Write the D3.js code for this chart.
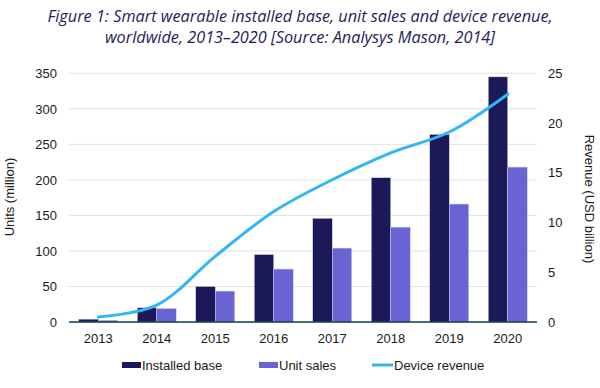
<!DOCTYPE html>
<html>
<head>
<meta charset="utf-8">
<script src="https://cdn.jsdelivr.net/npm/d3@7"></script>
<style>
  html, body { margin: 0; padding: 0; background: #fff; }
  svg { display: block; }
</style>
</head>
<body>
<div id="chart"></div>
<script>
const years = ["2013", "2014", "2015", "2016", "2017", "2018", "2019", "2020"];
const installedBase = [4, 20, 50, 95, 146, 203, 264, 345];
const unitSales = [2.5, 19, 43.5, 74.5, 104, 133.5, 166, 218];
const deviceRevenue = [0.5, 1.7, 6.6, 11.1, 14.3, 17.0, 19.1, 22.9];
const unitTicks = [0, 50, 100, 150, 200, 250, 300, 350];
const revenueTicks = [0, 5, 10, 15, 20, 25];
const seriesNames = ["Installed base", "Unit sales"];
const titleLines = [
  "Figure 1: Smart wearable installed base, unit sales and device revenue,",
  "worldwide, 2013\u20132020 [Source: Analysys Mason, 2014]"
];

const width = 600;
const height = 388;
const plot = { left: 69, right: 537, top: 73.3, bottom: 322 };
const colors = { "Installed base": "#1b1958", "Unit sales": "#6a63d4", line: "#33b6f6" };
const font = "'Liberation Sans', Arial, sans-serif";

const x0 = d3
  .scaleBand()
  .domain(years)
  .range([plot.left, plot.right])
  .paddingInner(1 / 3)
  .paddingOuter(1 / 6);

const x1 = d3.scaleBand().domain(seriesNames).range([0, x0.bandwidth()]);

const yLeft = d3.scaleLinear().domain([0, 350]).range([plot.bottom, plot.top]);
const yRight = d3.scaleLinear().domain([0, 25]).range([plot.bottom, plot.top]);

const svg = d3
  .select("#chart")
  .append("svg")
  .attr("width", width)
  .attr("height", height)
  .attr("viewBox", `0 0 ${width} ${height}`);

// title
svg
  .append("g")
  .selectAll("text")
  .data(titleLines)
  .join("text")
  .attr("x", width / 2)
  .attr("y", (d, i) => 22 + i * 20.5)
  .attr("text-anchor", "middle")
  .attr("font-family", "'Open Sans', Lato, sans-serif")
  .attr("font-style", "italic")
  .attr("font-size", 16.3)
  .attr("fill", "#1f1d5b")
  .text((d) => d);

// gridlines
svg
  .append("g")
  .selectAll("line")
  .data(unitTicks.filter((d) => d > 0))
  .join("line")
  .attr("x1", plot.left)
  .attr("x2", plot.right)
  .attr("y1", (d) => yLeft(d))
  .attr("y2", (d) => yLeft(d))
  .attr("stroke", "#e2e2e2")
  .attr("stroke-width", 1);

// bars
const rows = years.map((year, i) => ({
  year,
  values: [
    { key: "Installed base", value: installedBase[i] },
    { key: "Unit sales", value: unitSales[i] },
  ],
}));

svg
  .append("g")
  .selectAll("g")
  .data(rows)
  .join("g")
  .attr("transform", (d) => `translate(${x0(d.year)},0)`)
  .selectAll("rect")
  .data((d) => d.values)
  .join("rect")
  .attr("x", (d) => x1(d.key))
  .attr("y", (d) => yLeft(d.value))
  .attr("width", x1.bandwidth())
  .attr("height", (d) => plot.bottom - yLeft(d.value))
  .attr("fill", (d) => colors[d.key])
  .attr("stroke", "#d4d3ea")
  .attr("stroke-width", 0.5);

// baseline
svg
  .append("line")
  .attr("x1", plot.left)
  .attr("x2", plot.right)
  .attr("y1", plot.bottom)
  .attr("y2", plot.bottom)
  .attr("stroke", "#0f3a4b")
  .attr("stroke-width", 1.5);

// revenue line
const line = d3
  .line()
  .x((d, i) => x0(years[i]) + x0.bandwidth() / 2)
  .y((d) => yRight(d))
  .curve(d3.curveCatmullRom.alpha(0.5));

svg
  .append("path")
  .datum(deviceRevenue)
  .attr("fill", "none")
  .attr("stroke", colors.line)
  .attr("stroke-width", 3)
  .attr("stroke-linecap", "round")
  .attr("d", line);

// axes
const leftAxis = svg
  .append("g")
  .attr("transform", `translate(${plot.left - 12},0)`)
  .call(d3.axisLeft(yLeft).tickValues(unitTicks).tickSize(0).tickPadding(0));

const rightAxis = svg
  .append("g")
  .attr("transform", `translate(${plot.right + 11},0)`)
  .call(d3.axisRight(yRight).tickValues(revenueTicks).tickSize(0).tickPadding(0));

const bottomAxis = svg
  .append("g")
  .attr("transform", `translate(0,${plot.bottom})`)
  .call(d3.axisBottom(x0).tickSize(0).tickPadding(12));

[leftAxis, rightAxis, bottomAxis].forEach((g) => {
  g.select(".domain").remove();
  g.attr("font-family", font).attr("font-size", 13);
  g.selectAll("text")
    .attr("font-family", font)
    .attr("font-size", 13)
    .attr("fill", "#1a1a1a");
});

// axis titles
svg
  .append("text")
  .attr("transform", `translate(14,197) rotate(-90)`)
  .attr("text-anchor", "middle")
  .attr("font-family", font)
  .attr("font-size", 13)
  .attr("fill", "#1a1a1a")
  .text("Units (million)");

svg
  .append("text")
  .attr("transform", `translate(585,199) rotate(90)`)
  .attr("text-anchor", "middle")
  .attr("font-family", font)
  .attr("font-size", 13)
  .attr("fill", "#1a1a1a")
  .text("Revenue (USD billion)");

// legend
const legendItems = [
  { name: "Installed base", x: 122, type: "rect" },
  { name: "Unit sales", x: 259, type: "rect" },
  { name: "Device revenue", x: 372, type: "line" },
];

const legend = svg
  .append("g")
  .selectAll("g")
  .data(legendItems)
  .join("g")
  .attr("transform", (d) => `translate(${d.x},365)`);

legend
  .filter((d) => d.type === "rect")
  .append("rect")
  .attr("x", 0)
  .attr("y", -3)
  .attr("width", 19)
  .attr("height", 6)
  .attr("fill", (d) => colors[d.name]);

legend
  .filter((d) => d.type === "line")
  .append("line")
  .attr("x1", 0)
  .attr("x2", 21)
  .attr("stroke", colors.line)
  .attr("stroke-width", 3);

legend
  .append("text")
  .attr("x", (d) => (d.type === "line" ? 22 : 20))
  .attr("y", 4.5)
  .attr("font-family", font)
  .attr("font-size", 13)
  .attr("fill", "#1a1a1a")
  .text((d) => d.name);
</script>
</body>
</html>
